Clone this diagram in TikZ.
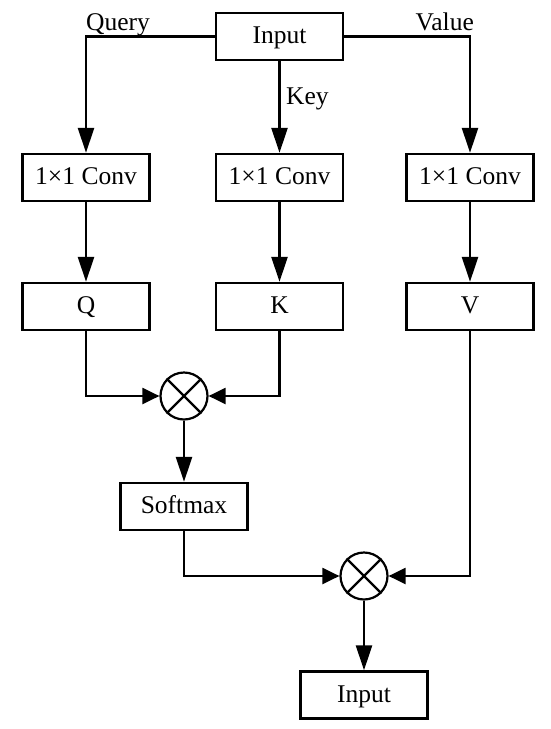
\documentclass[tikz,border=0pt]{standalone}
\usepackage{fontspec}
\setmainfont{Liberation Serif}
\usetikzlibrary{arrows.meta}
\tikzset{
  box/.style={draw, line width=2.3pt, minimum width=127pt, minimum height=47pt, inner sep=0pt, text height=18pt, text depth=4pt, font=\fontsize{25.5}{30}\selectfont},
  mult/.style={draw, circle, line width=2.2pt, minimum size=47pt, inner sep=0pt},
  lbl/.style={inner sep=0pt, font=\fontsize{25.5}{30}\selectfont},
  conn/.style={line width=2.2pt},
  arrv/.style={conn, -{Triangle[length=25pt,width=16pt]}},
  arrh/.style={conn, -{Triangle[length=17pt,width=16pt]}}
}
\begin{document}
\begin{tikzpicture}[x=1pt,y=-1pt]
\useasboundingbox (0,0) rectangle (550,729);
\fill[white] (0,0) rectangle (550,729);
\node[box] (in) at (279.5,36.5) {Input};
\node[box] (c1) at (86,177.5) {1×1 Conv};
\node[box] (c2) at (279.5,177.5) {1×1 Conv};
\node[box] (c3) at (470,177.5) {1×1 Conv};
\node[box] (q) at (86,306.5) {Q};
\node[box] (k) at (279.5,306.5) {K};
\node[box] (v) at (470,306.5) {V};
\node[mult] (m1) at (184,396) {};
\draw[conn] (m1.45) -- (m1.225) (m1.135) -- (m1.315);
\node[box] (sm) at (184,506.5) {Softmax};
\node[mult] (m2) at (364,576) {};
\draw[conn] (m2.45) -- (m2.225) (m2.135) -- (m2.315);
\node[box] (out) at (364,695) {Input};
\node[lbl, anchor=base west] (lq) at (86,30) {Query};
\node[lbl, anchor=base east] (lv) at (474,30) {Value};
\node[lbl, anchor=base west] (lk) at (286,104) {Key};
\draw[arrv] (in.west) -| (c1.north);
\draw[arrv] (in.south) -- (c2.north);
\draw[arrv] (in.east) -| (c3.north);
\draw[arrv] (c1.south) -- (q.north);
\draw[arrv] (c2.south) -- (k.north);
\draw[arrv] (c3.south) -- (v.north);
\draw[arrh] (q.south) |- (m1.west);
\draw[arrh] (k.south) |- (m1.east);
\draw[arrv] (m1.south) -- (sm.north);
\draw[arrh] (sm.south) |- (m2.west);
\draw[arrh] (v.south) |- (m2.east);
\draw[arrv] (m2.south) -- (out.north);
\end{tikzpicture}
\end{document}
